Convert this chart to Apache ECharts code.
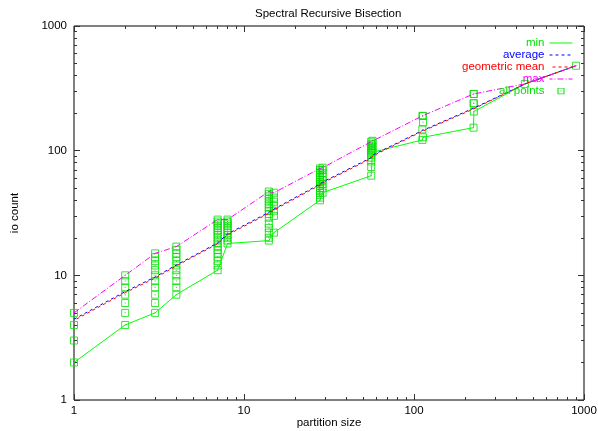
<!DOCTYPE html>
<html>
<head>
<meta charset="utf-8">
<script src="https://cdn.jsdelivr.net/npm/echarts@6/dist/echarts.min.js"></script>
<style>
  html, body { margin: 0; padding: 0; background: #fff; }
  #chart { width: 598px; height: 431px; }
</style>
</head>
<body>
<div id="chart"></div>
<script>
// partition sizes and io counts
const sizes = [1, 2, 3, 4, 7, 8, 14, 15, 28, 29, 56, 57, 112, 113, 224, 225, 449, 898];
const minIo = [2, 4, 5, 7, 11, 18, 19, 22, 40, 46, 63, 97, 122, 128, 153, 206, 343, 480];
const avgIo = [4.45, 7.4, 9.7, 12.1, 18.2, 21.5, 32, 34, 54, 56, 88, 92, 145, 148, 219, 222, 343, 480];
const geoIo = [4.35, 7.25, 9.5, 11.9, 17.9, 21.1, 31.4, 33.4, 53, 55, 86.5, 90.5, 143, 146, 216, 219, 343, 480];
const maxIo = [5, 10, 15, 17, 28, 28, 47, 46, 72, 73, 118, 120, 190, 190, 285, 285, 343, 480];
const allPoints = [
  [2, 3, 4, 5],
  [4, 5, 6, 7, 8, 9, 10],
  [5, 6, 7, 8, 9, 10, 11, 12, 13, 14, 15],
  [7, 8, 9, 10, 11, 12, 13, 14, 15, 16, 17],
  [11, 12, 13, 14, 15, 16, 17, 18, 19, 20, 21, 22, 23, 24, 25, 26, 27, 28],
  [18, 19, 20, 21, 22, 23, 24, 25, 26, 27, 28],
  [19, 20, 22, 24, 26, 29, 31, 33, 35, 37, 39, 41, 43, 45, 47],
  [22, 30, 33, 36, 39, 42, 46],
  [40, 42, 44, 46, 48, 50, 52, 54, 56, 58, 60, 62, 64, 66, 68, 70, 72],
  [46, 50, 54, 58, 62, 66, 70, 73],
  [63, 74, 82, 88, 92, 96, 100, 104, 108, 112, 118],
  [97, 102, 108, 114, 120],
  [122, 148, 190],
  [128, 169, 190],
  [153, 240, 285],
  [206, 240, 285],
  [343],
  [480]
];
const majorTicks = [1, 10, 100, 1000];
const minorTicks = [2, 3, 4, 5, 6, 7, 8, 9, 20, 30, 40, 50, 60, 70, 80, 90, 200, 300, 400, 500, 600, 700, 800, 900];

const font = 'Liberation Sans';
const green = '#00e000';
const pair = (vals) => sizes.map((s, i) => [s, vals[i]]);
const pointData = [];
sizes.forEach((s, i) => {
  allPoints[i].forEach((v) => pointData.push([s, v]));
});

// small hollow square for the legend, centred in the 23x7 icon box
const squareIcon = 'image://data:image/svg+xml;charset=utf-8,' + encodeURIComponent(
  "<svg xmlns='http://www.w3.org/2000/svg' width='23' height='7'>" +
  "<rect x='8.5' y='0.5' width='6' height='6' fill='none' stroke='" + green + "'/>" +
  "<rect x='11' y='3' width='1' height='1' fill='" + green + "'/></svg>"
);

function makeAxis(dim, position, ticks, len, labels) {
  return {
    type: 'log',
    logBase: 10,
    min: 1,
    max: 1000,
    position,
    axisLine: { show: false },
    splitLine: { show: false },
    axisTick: {
      show: true,
      inside: true,
      length: len,
      customValues: ticks,
      lineStyle: { color: '#333', width: 1 }
    },
    axisLabel: {
      show: labels,
      customValues: ticks,
      formatter: (v) => String(v),
      color: '#000',
      fontFamily: font,
      fontSize: 11.5,
      margin: dim === 'x' ? 5 : 7
    }
  };
}

const xAxes = [
  makeAxis('x', 'bottom', majorTicks, 6, true),
  makeAxis('x', 'bottom', minorTicks, 3, false),
  makeAxis('x', 'top', majorTicks, 6, false),
  makeAxis('x', 'top', minorTicks, 3, false)
];
xAxes[0].name = 'partition size';
xAxes[0].nameLocation = 'middle';
xAxes[0].nameGap = 17;
xAxes[0].nameMoveOverlap = false;
xAxes[0].nameTextStyle = { color: '#000', fontFamily: font, fontSize: 11.5 };

const yAxes = [
  makeAxis('y', 'left', majorTicks, 6, true),
  makeAxis('y', 'left', minorTicks, 3, false),
  makeAxis('y', 'right', majorTicks, 6, false),
  makeAxis('y', 'right', minorTicks, 3, false)
];
yAxes[0].name = 'io count';
yAxes[0].nameLocation = 'middle';
yAxes[0].nameRotate = 90;
yAxes[0].nameGap = 53;
yAxes[0].nameTextStyle = { color: '#000', fontFamily: font, fontSize: 11.5 };

const chart = echarts.init(document.getElementById('chart'), null, { renderer: 'canvas' });
chart.setOption({
  animation: false,
  backgroundColor: '#fff',
  title: {
    text: 'Spectral Recursive Bisection',
    left: 255,
    top: 8,
    padding: 0,
    textStyle: { color: '#000', fontFamily: font, fontSize: 11.5, fontWeight: 'normal' }
  },
  grid: {
    left: 74, right: 14, top: 26, bottom: 31,
    outerBoundsMode: 'none',
    containLabel: false,
    show: true, borderColor: '#000', borderWidth: 1, backgroundColor: 'transparent'
  },
  legend: {
    orient: 'vertical',
    right: 25,
    top: 37,
    align: 'right',
    padding: 0,
    itemWidth: 23,
    itemHeight: 7,
    itemGap: 0,
    itemStyle: { opacity: 0 },
    lineStyle: { width: 1 },
    textStyle: { fontFamily: font, fontSize: 11.5, lineHeight: 12 },
    data: [
      { name: 'min', textStyle: { color: green } },
      { name: 'average', textStyle: { color: '#0000ff' } },
      { name: 'geometric mean', textStyle: { color: '#ff0000' } },
      { name: 'max', textStyle: { color: '#ff00ff' } },
      { name: 'all points', icon: squareIcon, itemStyle: { opacity: 1 }, textStyle: { color: green } }
    ]
  },
  xAxis: xAxes,
  yAxis: yAxes,
  series: [
    {
      name: 'min', type: 'line', data: pair(minIo), symbol: 'none',
      lineStyle: { color: '#00ff00', width: 1 }, itemStyle: { color: '#00ff00' }
    },
    {
      name: 'average', type: 'line', data: pair(avgIo), symbol: 'none',
      lineStyle: { color: '#0000ff', width: 1, type: [3, 3] }, itemStyle: { color: '#0000ff' }
    },
    {
      name: 'geometric mean', type: 'line', data: pair(geoIo), symbol: 'none',
      lineStyle: { color: '#ff0000', width: 1, type: [3, 3], dashOffset: 3 }, itemStyle: { color: '#ff0000' }
    },
    {
      name: 'max', type: 'line', data: pair(maxIo), symbol: 'none',
      lineStyle: { color: '#ff00ff', width: 1, type: [6, 2, 1, 2] }, itemStyle: { color: '#ff00ff' }
    },
    {
      name: 'all points', type: 'scatter', data: pointData,
      symbol: 'rect', symbolSize: 7,
      itemStyle: { color: 'none', borderColor: green, borderWidth: 1 }
    },
    {
      name: 'dots', type: 'scatter', data: pointData, silent: true,
      symbol: 'rect', symbolSize: 1,
      itemStyle: { color: '#00c000' }
    }
  ]
});
</script>
</body>
</html>
